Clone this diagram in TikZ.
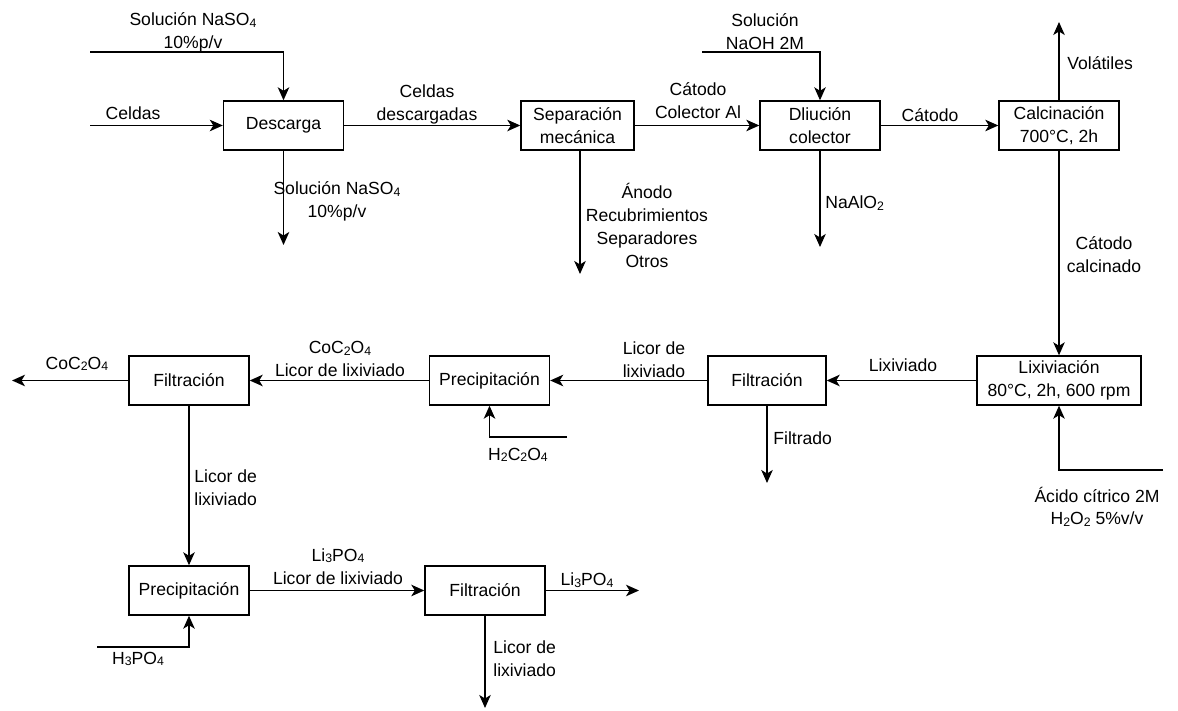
\documentclass[tikz,border=0pt]{standalone}
\usepackage{fontspec}
\setmainfont{Liberation Sans}
\usetikzlibrary{arrows.meta}
\newcommand{\ssub}[1]{\raisebox{-0.15ex}{\fontsize{7}{7}\selectfont #1}}

\begin{document}
\begin{tikzpicture}[
  proceso/.style={draw, line width=0.8pt, minimum width=2.4cm, minimum height=0.98cm, align=center, inner sep=1pt},
  flecha/.style={line width=0.8pt, -{Stealth[length=2.6mm, width=2.3mm, inset=0.7mm]}},
  etiqueta/.style={align=center, inner sep=0pt},
  font=\fontsize{10}{13}\selectfont]
  \useasboundingbox (0,0) rectangle (23.56,14.2);
  % procesos
  \node[proceso] (descarga) at (5.67,11.69) {Descarga};
  \node[proceso, minimum width=2.26cm] (separacion) at (11.55,11.69) {Separación\\mecánica};
  \node[proceso] (dilucion) at (16.4,11.69) {Dliución\\colector};
  \node[proceso] (calcinacion) at (21.18,11.69) {Calcinación\\700°C, 2h};
  \node[proceso, minimum width=3.28cm] (lixiviacion) at (21.18,6.59) {Lixiviación\\80°C, 2h, 600 rpm};
  \node[proceso, minimum width=2.36cm] (filtA) at (15.34,6.59) {Filtración};
  \node[proceso] (precA) at (9.79,6.59) {Precipitación};
  \node[proceso] (filtB) at (3.78,6.59) {Filtración};
  \node[proceso] (precB) at (3.78,2.39) {Precipitación};
  \node[proceso] (filtC) at (9.7,2.39) {Filtración};
  % extremos libres
  \coordinate (inNaSO) at (1.8,13.16);
  \coordinate (inCeldas) at (1.8,11.69);
  \coordinate (outNaSO) at (5.67,9.3);
  \coordinate (outAnodo) at (11.6,8.72);
  \coordinate (inNaOH) at (14.04,13.16);
  \coordinate (outNaAlO) at (16.4,9.26);
  \coordinate (outVol) at (21.18,13.76);
  \coordinate (inAcido) at (23.26,4.8);
  \coordinate (outFiltrado) at (15.34,4.54);
  \coordinate (inHCO) at (11.34,5.46);
  \coordinate (outCoCO) at (0.24,6.59);
  \coordinate (inHPO) at (1.94,1.26);
  \coordinate (outLiPO) at (12.78,2.39);
  \coordinate (outLicor) at (9.7,0.04);
  % corrientes
  \draw[flecha] (inNaSO) -| (descarga);
  \draw[flecha] (inCeldas) -- (descarga);
  \draw[flecha] (descarga) -- (outNaSO);
  \draw[flecha] (descarga) -- (separacion);
  \draw[flecha] (separacion.south -| outAnodo) -- (outAnodo);
  \draw[flecha] (separacion) -- (dilucion);
  \draw[flecha] (inNaOH) -| (dilucion);
  \draw[flecha] (dilucion) -- (outNaAlO);
  \draw[flecha] (dilucion) -- (calcinacion);
  \draw[flecha] (calcinacion) -- (outVol);
  \draw[flecha] (calcinacion) -- (lixiviacion);
  \draw[flecha] (inAcido) -| (lixiviacion);
  \draw[flecha] (lixiviacion) -- (filtA);
  \draw[flecha] (filtA) -- (outFiltrado);
  \draw[flecha] (filtA) -- (precA);
  \draw[flecha] (inHCO) -| (precA);
  \draw[flecha] (precA) -- (filtB);
  \draw[flecha] (filtB) -- (outCoCO);
  \draw[flecha] (filtB) -- (precB);
  \draw[flecha] (inHPO) -| (precB);
  \draw[flecha] (precB) -- (filtC);
  \draw[flecha] (filtC) -- (outLiPO);
  \draw[flecha] (filtC) -- (outLicor);
  % textos de las corrientes
  \node[etiqueta] (tNaSOin) at (3.86,13.55) {Solución NaSO\ssub{4}\\10\%p/v};
  \node[etiqueta] (tCeldas) at (2.66,11.94) {Celdas};
  \node[etiqueta] (tNaSOout) at (6.74,10.17) {Solución NaSO\ssub{4}\\10\%p/v};
  \node[etiqueta] (tDescarg) at (8.54,12.11) {Celdas\\descargadas};
  \node[etiqueta] (tAnodo) at (12.94,9.69) {Ánodo\\Recubrimientos\\Separadores\\Otros};
  \node[etiqueta] (tColector) at (13.96,12.18) {Cátodo\\Colector Al};
  \node[etiqueta] (tNaOH) at (15.3,13.57) {Solución\\NaOH 2M};
  \node[etiqueta, anchor=west] (tNaAlO) at (16.5,10.14) {NaAlO\ssub{2}};
  \node[etiqueta] (tCatodo) at (18.6,11.9) {Cátodo};
  \node[etiqueta, anchor=west] (tVol) at (21.34,12.94) {Volátiles};
  \node[etiqueta] (tCalcin) at (22.08,9.1) {Cátodo\\calcinado};
  \node[etiqueta] (tAcido) at (21.94,4.07) {Ácido cítrico 2M\\H\ssub{2}O\ssub{2} 5\%v/v};
  \node[etiqueta] (tLixiv) at (18.06,6.9) {Lixiviado};
  \node[etiqueta, anchor=west] (tFiltrado) at (15.46,5.44) {Filtrado};
  \node[etiqueta] (tLicorA) at (13.08,7.0) {Licor de\\lixiviado};
  \node[etiqueta] (tHCO) at (10.36,5.1) {H\ssub{2}C\ssub{2}O\ssub{4}};
  \node[etiqueta] (tCoLicor) at (6.8,7.02) {CoC\ssub{2}O\ssub{4}\\Licor de lixiviado};
  \node[etiqueta] (tCoCO) at (1.54,6.92) {CoC\ssub{2}O\ssub{4}};
  \node[etiqueta, anchor=west, align=left] (tLicorB) at (3.88,4.45) {Licor de\\lixiviado};
  \node[etiqueta] (tHPO) at (2.76,1.02) {H\ssub{3}PO\ssub{4}};
  \node[etiqueta] (tLiLicor) at (6.76,2.87) {Li\ssub{3}PO\ssub{4}\\Licor de lixiviado};
  \node[etiqueta] (tLiPO) at (11.74,2.6) {Li\ssub{3}PO\ssub{4}};
  \node[etiqueta, anchor=west, align=left] (tLicorC) at (9.86,1.02) {Licor de\\lixiviado};
\end{tikzpicture}
\end{document}
